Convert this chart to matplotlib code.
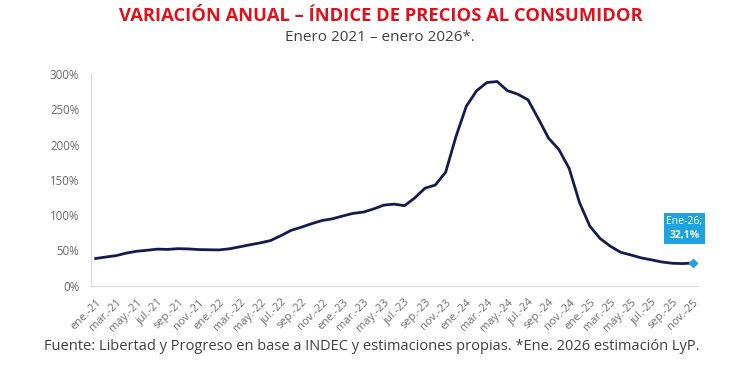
import matplotlib
matplotlib.use("Agg")
import matplotlib.pyplot as plt
from matplotlib.ticker import FuncFormatter
from matplotlib.offsetbox import TextArea, VPacker, AnnotationBbox

plt.rcParams['font.family'] = ['Open Sans', 'DejaVu Sans']

months = ["ene.", "feb.", "mar.", "abr.", "may.", "jun.", "jul.", "ago.", "sep.", "oct.", "nov.", "dic."]
years = ["21", "22", "23", "24", "25"]
periods = [f"{m}-{y}" for y in years for m in months][:59]

inflation = [
    38.5, 40.7, 42.6, 46.3, 48.8, 50.2, 51.8, 51.4, 52.5, 52.1, 51.2, 50.9,
    50.7, 52.3, 55.1, 58.0, 60.7, 64.0, 71.0, 78.5, 83.0, 88.0, 92.4, 94.8,
    98.8, 102.5, 104.3, 108.8, 114.2, 115.6, 113.4, 124.4, 138.3, 142.7, 160.9, 211.4,
    254.2, 276.2, 287.9, 289.4, 276.4, 271.5, 263.4, 236.7, 209.0, 193.0, 166.0, 117.8,
    84.5, 66.9, 55.9, 47.3, 43.5, 39.4, 36.6, 33.6, 31.8, 31.3,
    32.1,
]
yticks = [0, 50, 100, 150, 200, 250, 300]
last_label = "Ene-26;"
last_value = "32,1%"

fig = plt.figure(figsize=(7.3, 3.8), dpi=100)
ax = fig.add_axes([0.124, 0.2482, 0.832, 0.557])

x = list(range(len(inflation)))
ax.plot(x, inflation, color="#161b4f", lw=2.0, solid_joinstyle="round")
ax.plot([x[-1]], [inflation[-1]], marker="D", ms=4.5, color="#1fa3e0", lw=0)

ax.set_xlim(-0.5, len(inflation) - 0.5)
ax.set_ylim(0, 300)
ax.set_yticks(yticks)
ax.yaxis.set_major_formatter(FuncFormatter(lambda v, p: f"{int(v)}%"))
ax.set_xticks(x[::2])
ax.set_xticklabels(periods[::2], rotation=45, ha="right", va="top",
                   rotation_mode="anchor", fontsize=8, color="#6e6e6e")
ax.tick_params(axis="y", labelsize=8.3, colors="#6b6b6b", length=0, pad=8)
ax.tick_params(axis="x", length=0, pad=8)

for s in ["top", "right"]:
    ax.spines[s].set_visible(False)
ax.spines["left"].set_color("#d9d9d9")
ax.spines["bottom"].set_color("#d9d9d9")
ax.spines["left"].set_linewidth(0.8)
ax.spines["bottom"].set_linewidth(0.8)

ta1 = TextArea(last_label, textprops=dict(fontsize=7.5, color="white"))
ta2 = TextArea(last_value, textprops=dict(fontsize=7.5, color="white", fontweight="bold"))
box = VPacker(children=[ta1, ta2], align="center", pad=0, sep=2)
ab = AnnotationBbox(box, (57.2, 81), xycoords="data", frameon=True, pad=0.2,
                    bboxprops=dict(boxstyle="square,pad=0.2", fc="#1fa3e0", ec="none"))
ax.add_artist(ab)

fig.text(0.522, 0.957, "VARIACIÓN ANUAL – ÍNDICE DE PRECIOS AL CONSUMIDOR", ha="center", va="center",
         fontsize=13.2, fontweight="bold", color="#e3101c")
fig.text(0.521, 0.902, "Enero 2021 – enero 2026*.", ha="center", va="center", fontsize=11, color="#404040")
fig.text(0.51, 0.087, "Fuente: Libertad y Progreso en base a INDEC y estimaciones propias. *Ene. 2026 estimación LyP.",
         ha="center", va="center", fontsize=10.5, color="#404040")

fig.savefig("out.png", dpi=100)
